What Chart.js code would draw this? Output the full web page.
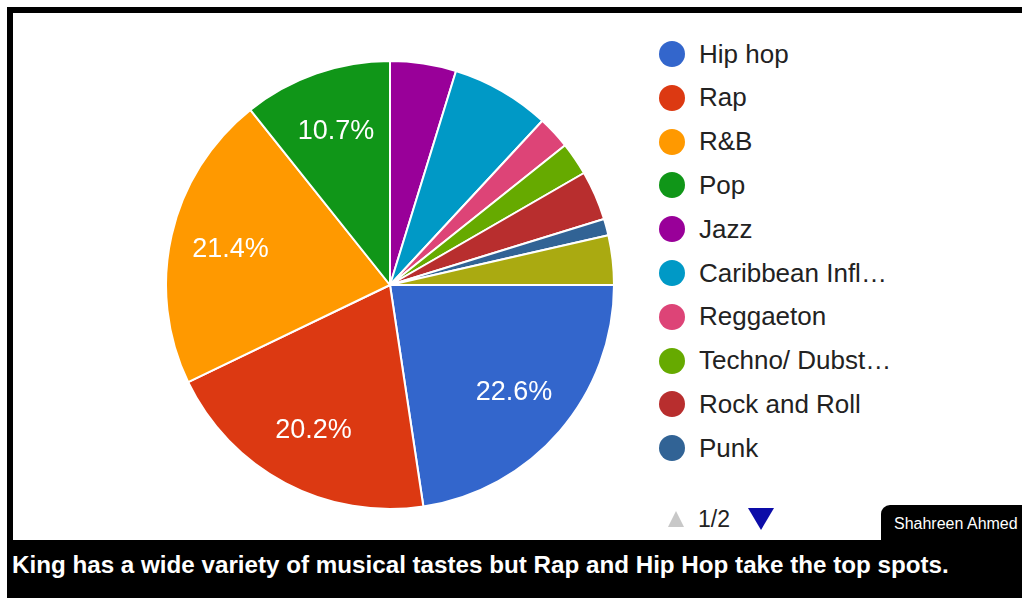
<!DOCTYPE html>
<html>
<head>
<meta charset="utf-8">
<script src="https://cdn.jsdelivr.net/npm/chart.js@4/dist/chart.umd.min.js"></script>
<style>
  html, body { margin: 0; padding: 0; background: #fff; }
  body { width: 1022px; height: 598px; position: relative; overflow: hidden; font-family: "Liberation Sans", Arial, sans-serif; }
  #frame { position: absolute; left: 7px; top: 7px; width: 1015px; height: 591px; background: #000; }
  #panel { position: absolute; left: 13px; top: 13px; width: 1009px; height: 527px; background: #fff; }
  #pieBox { position: absolute; left: 165px; top: 60px; width: 450px; height: 450px; }
  #legend { position: absolute; left: 0; top: 0; }
  .item { position: absolute; left: 659px; height: 30px; display: flex; align-items: center; white-space: nowrap; }
  .dot { width: 26px; height: 26px; border-radius: 50%; margin-right: 14px; flex: none; }
  .lbl { font-size: 26px; color: #222; }
  #pager { position: absolute; left: 668px; top: 505px; height: 28px; display: flex; align-items: center; }
  .up { width: 0; height: 0; border-left: 8px solid transparent; border-right: 8px solid transparent; border-bottom: 16px solid #c8c8c8; margin-right: 14px; }
  .pg { font-size: 23px; color: #222; margin-right: 18px; }
  .down { width: 0; height: 0; border-left: 13px solid transparent; border-right: 13px solid transparent; border-top: 22px solid #0c0ca8; }
  #credit { position: absolute; left: 881px; top: 505px; width: 141px; height: 40px; background: #000; border-radius: 9px 0 0 0; color: #fff; font-size: 16px; line-height: 38px; padding-left: 13px; box-sizing: border-box; white-space: nowrap; overflow: hidden; }
  #caption { position: absolute; left: 12px; top: 551px; color: #fff; font-weight: bold; font-size: 24.2px; white-space: nowrap; }
</style>
</head>
<body>
<div id="frame"></div>
<div id="panel"></div>
<div id="pieBox"><canvas id="c"></canvas></div>
<div id="legend"></div>
<div id="pager"><div class="up"></div><div class="pg">1/2</div><div class="down"></div></div>
<div id="credit">Shahreen Ahmed</div>
<div id="caption">King has a wide variety of musical tastes but Rap and Hip Hop take the top spots.</div>
<script>
// Data (survey counts, n = 84)
const genres = ["Hip hop", "Rap", "R&B", "Pop", "Jazz", "Caribbean Infl\u2026", "Reggaeton", "Techno/ Dubst\u2026", "Rock and Roll", "Punk", "Other"];
const counts = [19, 17, 18, 9, 4, 6, 2, 2, 3, 1, 3];
const sliceColors = ["#3366cc", "#dc3912", "#ff9900", "#109618", "#990099", "#0099c6", "#dd4477", "#66aa00", "#b82e2e", "#316395", "#aaaa11"];
const legendPageSize = 10;

const total = counts.reduce((a, b) => a + b, 0);

// HTML legend (first page)
const legendEl = document.getElementById('legend');
genres.slice(0, legendPageSize).forEach((g, i) => {
  const d = document.createElement('div');
  d.className = 'item';
  d.style.top = (54 + i * 43.8 - 15) + 'px';
  d.innerHTML = '<span class="dot" style="background:' + sliceColors[i] + '"></span><span class="lbl"></span>';
  d.querySelector('.lbl').textContent = g;
  legendEl.appendChild(d);
});

const sliceLabels = {
  id: 'sliceLabels',
  afterDatasetsDraw(chart) {
    const ctx = chart.ctx;
    const meta = chart.getDatasetMeta(0);
    ctx.save();
    ctx.fillStyle = '#ffffff';
    ctx.font = '27px "Liberation Sans", Arial, sans-serif';
    ctx.textAlign = 'center';
    ctx.textBaseline = 'middle';
    meta.data.forEach((arc, i) => {
      const pct = counts[i] / total * 100;
      if (pct < 10) return;
      const p = arc.getProps(['x', 'y', 'startAngle', 'endAngle', 'outerRadius'], true);
      const mid = (p.startAngle + p.endAngle) / 2;
      const r = p.outerRadius * 0.73;
      ctx.fillText(pct.toFixed(1) + '%', p.x + Math.cos(mid) * r, p.y + Math.sin(mid) * r + 1);
    });
    ctx.restore();
  }
};

new Chart(document.getElementById('c'), {
  type: 'pie',
  data: {
    labels: genres,
    datasets: [{
      data: counts,
      backgroundColor: sliceColors,
      borderColor: '#ffffff',
      borderWidth: 2
    }]
  },
  options: {
    responsive: true,
    maintainAspectRatio: false,
    animation: false,
    rotation: 90,
    layout: { padding: 0 },
    plugins: {
      legend: { display: false },
      tooltip: { enabled: false }
    }
  },
  plugins: [sliceLabels]
});
</script>
</body>
</html>
